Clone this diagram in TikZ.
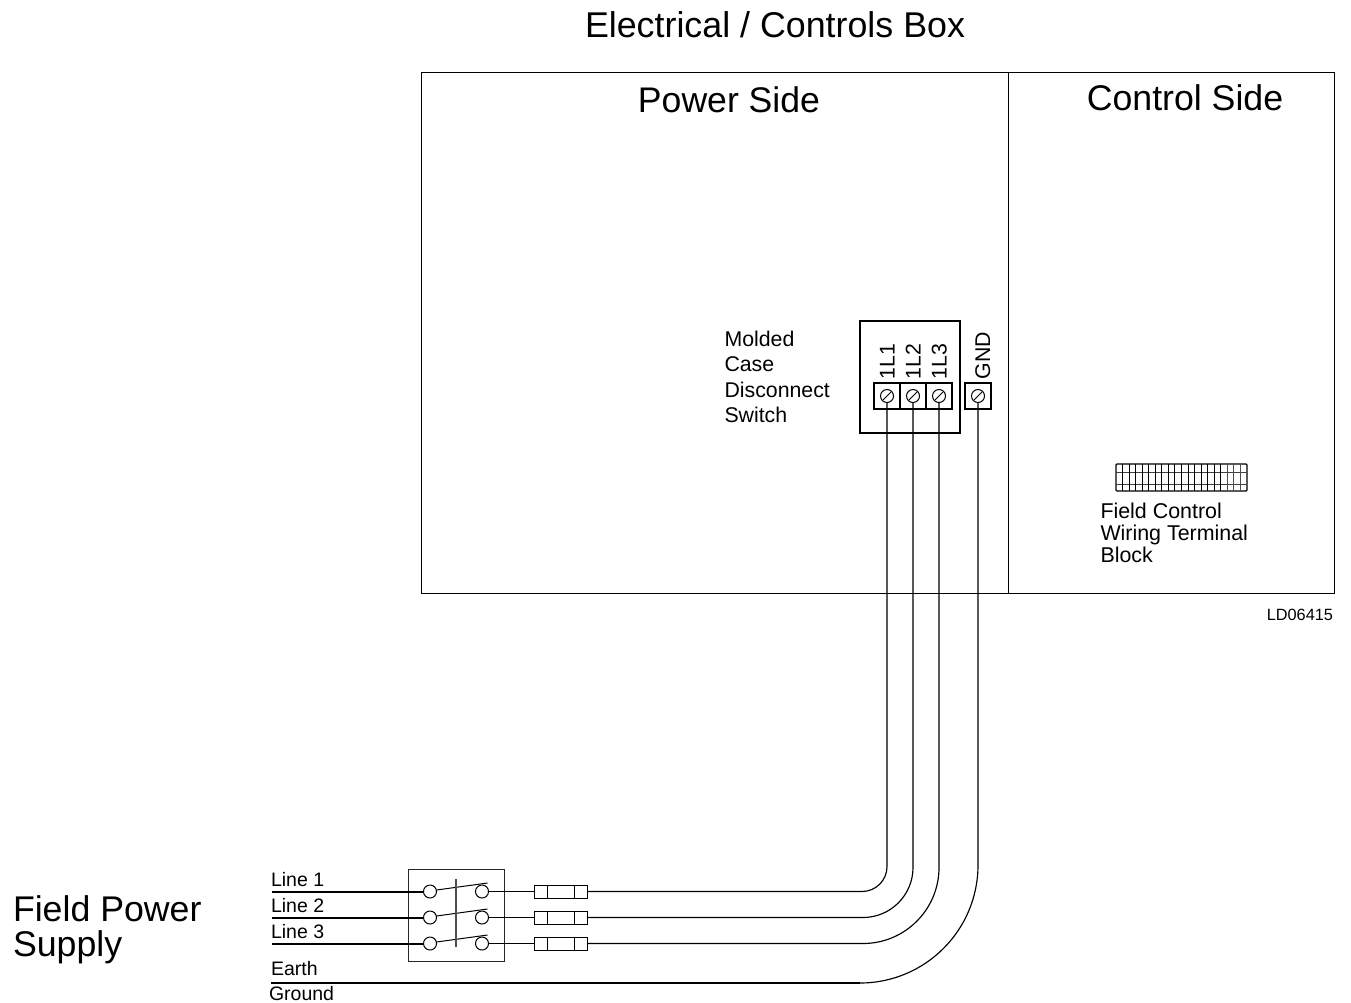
\documentclass[tikz,border=0pt]{standalone}
\usepackage{fontspec}
\usetikzlibrary{calc}
\setmainfont{Liberation Sans}
\newcommand{\fs}[2]{\fontsize{#1}{#2}\selectfont}
\tikzset{
  lbl/.style={inner sep=0pt,outer sep=0pt,anchor=base west,text=black},
  mlbl/.style={inner sep=0pt,outer sep=0pt,anchor=west,align=left,text=black},
  vlbl/.style={inner sep=0pt,outer sep=0pt,anchor=base west,rotate=90,text=black,font=\fs{21.3}{25}},
  panel/.style={draw=black,line width=1pt,inner sep=0pt,outer sep=0pt},
  screw/.style={draw=black,circle,line width=1pt,minimum size=13pt,inner sep=0pt,outer sep=0pt},
  contact/.style={draw=black,fill=white,circle,line width=1pt,minimum size=13pt,inner sep=0pt,outer sep=0pt},
  fuse/.style={draw=black,rectangle,line width=1pt,minimum width=53pt,minimum height=13pt,inner sep=0pt,outer sep=0pt},
  wire/.style={draw=black,line width=1.15pt},
  feed/.style={draw=black,line width=2pt},
}
\begin{document}
\begin{tikzpicture}[x=1pt,y=-1pt]
\useasboundingbox (0,0) rectangle (1351,1002);
% enclosure
\node[panel,minimum width=587pt,minimum height=521pt,anchor=north west] (power) at (421,72) {};
\node[panel,minimum width=326pt,minimum height=521pt,anchor=north west] (control) at (1008,72) {};
\node[inner sep=0pt,anchor=base,font=\fs{35.8}{40}] (ttl) at (775,37) {Electrical / Controls Box};
\node[inner sep=0pt,anchor=base,font=\fs{35.6}{40}] (pside) at (729,112) {Power Side};
\node[inner sep=0pt,anchor=base,font=\fs{35.7}{40}] (cside) at (1185,110) {Control Side};
\node[lbl,anchor=base east,font=\fs{16.3}{18}] (ld) at (1333,620) {LD06415};
\node[mlbl,font=\fs{21.3}{25.5}] (mc) at (724.5,377) {Molded\\Case\\Disconnect\\Switch};
\node[mlbl,font=\fs{21.4}{22}] (fclbl) at (1100.5,533) {Field Control\\Wiring Terminal\\Block};
\node[mlbl,font=\fs{35.7}{35}] (fp) at (13,929.5) {Field Power\\Supply};
% disconnect switch
\node[draw=black,line width=2pt,minimum width=100pt,minimum height=112pt,inner sep=0pt,outer sep=0pt,anchor=north west] (mccb) at (860,321) {};
\foreach \x/\n in {887/a,913/b,939/c,978/g}{
  \node[draw=black,line width=1.4pt,minimum width=26pt,minimum height=26pt,inner sep=0pt,outer sep=0pt] (t\n) at (\x,396) {};
  \node[screw] (s\n) at (\x,396) {};
  \draw[line width=.9pt] ($(\x,396)+(-3.8,3.8)$) -- ($(\x,396)+(3.8,-3.8)$);
}
\node[vlbl] (l1) at (894.5,379) {1L1};
\node[vlbl] (l2) at (920.5,379) {1L2};
\node[vlbl] (l3) at (946.5,379) {1L3};
\node[vlbl] (lg) at (990,379) {GND};
% terminal block
\node[draw=black,line width=1.2pt,rounded corners=1pt,minimum width=131pt,minimum height=27pt,inner sep=0pt,outer sep=0pt,anchor=north west] (tb) at (1116,464) {};
\draw[line width=1pt,black!75] (1116,472) -- (1247,472) (1116,484) -- (1247,484);
\foreach \i in {1,...,16}{\draw[line width=1.3pt] ({floor(1116+6.55*\i)+.5},464) -- ({floor(1116+6.55*\i)+.5},491);}
\foreach \i in {1,2,3}{\draw[line width=.9pt,black!70] ({floor(1220.8+6.55*\i)+.5},464) -- ({floor(1220.8+6.55*\i)+.5},491);}
% field disconnect
\node[draw=black!85,line width=1pt,minimum width=96pt,minimum height=92pt,inner sep=0pt,outer sep=0pt,anchor=north west] (fd) at (408,869) {};
\foreach \y/\n/\t in {891.5/a/Line 1,917.5/b/Line 2,943.5/c/Line 3}{
  \node[contact] (cl\n) at (430,\y) {};
  \node[contact] (cr\n) at (482,\y) {};
  \node[fuse] (fu\n) at (560.5,\y) {};
  \draw[line width=1pt] ($(fu\n.west)+(13,-6.5)$) -- ($(fu\n.west)+(13,6.5)$);
  \draw[line width=1pt] ($(fu\n.east)+(-13,-6.5)$) -- ($(fu\n.east)+(-13,6.5)$);
  \coordinate (in\n) at (272,\y);
  \node[lbl,font=\fs{19.5}{22}] (txt\n) at (271,{\y-5.5}) {\t};
  \draw[feed] (in\n) -- (cl\n.west);
  \draw[wire] (cr\n.east) -- (fu\n.west);
  \draw[line width=1pt] ($(cl\n.east)+(0,-1.5)$) -- ($(cl\n.east)+(51,-8.5)$);
}
\draw[line width=1.2pt,black!70] (456,879) -- (456,947);
% run to the terminals
\draw[wire,rounded corners=25pt] (fua.east) -| (sa.south);
\draw[wire,rounded corners=50pt] (fub.east) -| (sb.south);
\draw[wire,rounded corners=76pt] (fuc.east) -| (sc.south);
\coordinate (ea) at (271,983);
\coordinate (eb) at (860,983);
\draw[feed] (ea) -- (eb);
\draw[wire,rounded corners=118pt] (eb) -| (sg.south);
\node[lbl,font=\fs{19.5}{22}] (earth) at (271,975.5) {Earth};
\node[lbl,font=\fs{19.5}{22}] (ground) at (269,1000) {Ground};
\end{tikzpicture}
\end{document}
